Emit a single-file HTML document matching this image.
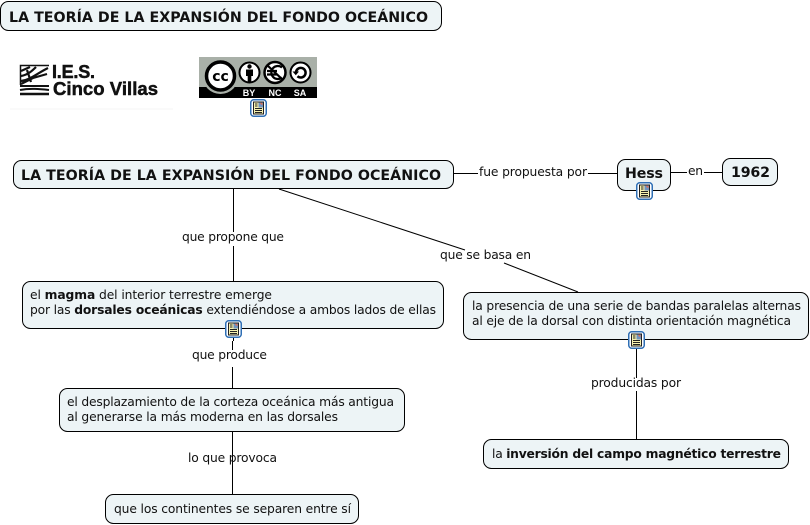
<!DOCTYPE html>
<html><head><meta charset="utf-8"><style>
html,body{margin:0;padding:0;background:#fff;width:810px;height:525px;overflow:hidden}
svg{display:block}
text{font-family:"DejaVu Sans","Liberation Sans",sans-serif;font-size:12.3px;fill:#111}
.b{font-weight:bold}
.n{fill:#edf4f6;stroke:#000;stroke-width:1}
.l{stroke:#000;stroke-width:1;fill:none}
.t{font-size:14.2px;font-weight:bold}
</style></head><body>
<svg width="810" height="525" viewBox="0 0 810 525" xmlns="http://www.w3.org/2000/svg">
<defs>
<g id="ic">
<rect x="0.75" y="0.75" width="15.5" height="16.5" rx="3" fill="#fff" stroke="#2f6fb5" stroke-width="1.5"/>
<rect x="3.500" y="3" width="10" height="12" fill="#f7f2b0" stroke="#222" stroke-width="1"/>
<rect x="8.500" y="3.500" width="4.500" height="5" fill="#6f93c0"/>
<path d="M10.500 4l2 1.500" stroke="#d9705a" stroke-width="1.500"/>
<path d="M5 5h2.500M5 7h2.500M5 9.500h7M5 11.500h7M5 13.500h7" stroke="#222" stroke-width="1"/>
</g>
</defs>

<!-- connectors -->
<path class="l" d="M453.500 173.500H617M670 172.500H722M233.500 188V281M279 189L465 250M504 263L578 292M233.500 329V341M232.500 341V388M232.500 431V494M636.500 340V439"/>

<!-- link label backgrounds -->
<rect x="478" y="164" width="110" height="17" fill="#fff"/>
<rect x="687" y="164" width="17" height="15" fill="#fff"/>
<rect x="181" y="232" width="105" height="14" fill="#fff"/>
<rect x="191" y="350" width="78" height="17" fill="#fff"/>
<rect x="590" y="378" width="92" height="13" fill="#fff"/>

<!-- nodes -->
<rect class="n" x="0.500" y="1.500" width="441" height="29" rx="8"/>
<text class="t" x="9" y="22" textLength="419">LA TEORÍA DE LA EXPANSIÓN DEL FONDO OCEÁNICO</text>

<rect class="n" x="13.500" y="160.500" width="440" height="28" rx="8"/>
<text class="t" x="21" y="180" textLength="420">LA TEORÍA DE LA EXPANSIÓN DEL FONDO OCEÁNICO</text>

<rect class="n" x="617.500" y="159.500" width="53" height="31" rx="8"/>
<text class="t" x="625" y="178" textLength="38">Hess</text>

<rect class="n" x="722.500" y="158.500" width="55" height="27" rx="8"/>
<text class="t" x="731" y="177" textLength="39">1962</text>

<rect class="n" x="22.500" y="281.500" width="421" height="47" rx="8"/>
<text x="30" y="299" textLength="242">el <tspan class="b">magma</tspan> del interior terrestre emerge</text>
<text x="30" y="314" textLength="406">por las <tspan class="b">dorsales oceánicas</tspan> extendiéndose a ambos lados de ellas</text>

<rect class="n" x="463.500" y="292.500" width="345" height="47" rx="8"/>
<text x="472" y="310" textLength="329">la presencia de una serie de bandas paralelas alternas</text>
<text x="472" y="325" textLength="319">al eje de la dorsal con distinta orientación magnética</text>

<rect class="n" x="59.500" y="388.500" width="345" height="43" rx="8"/>
<text x="67" y="406" textLength="327">el desplazamiento de la corteza oceánica más antigua</text>
<text x="67" y="421" textLength="271">al generarse la más moderna en las dorsales</text>

<rect class="n" x="105.500" y="494.500" width="253" height="29" rx="8"/>
<text x="114" y="513" textLength="237">que los continentes se separen entre sí</text>

<rect class="n" x="483.500" y="439.500" width="305" height="29" rx="8"/>
<text x="492" y="458" textLength="289">la <tspan class="b">inversión del campo magnético terrestre</tspan></text>

<!-- link labels -->
<text x="479" y="176" textLength="108">fue propuesta por</text>
<text x="688" y="175" textLength="15">en</text>
<text x="182" y="241" textLength="102">que propone que</text>
<text x="440" y="259" textLength="91">que se basa en</text>
<text x="192" y="359" textLength="75">que produce</text>
<text x="188" y="462" textLength="89">lo que provoca</text>
<text x="591" y="387" textLength="90">producidas por</text>

<!-- logo -->
<line x1="10" y1="109" x2="173" y2="109" stroke="#f6f6f6"/>
<rect x="20" y="65" width="29" height="30" fill="#fff"/>
<g fill="none" stroke="#111">
<path d="M20.500 85V65.500H49" stroke-width="1.500"/>
<path d="M21 71L30 67M21 76C28 75 33 70 36 67M21 81C30 80 36 74 48 68M27 70L31 82M21 84L33 78L47 74" stroke-width="2.200"/>
<path d="M20 86H49" stroke-width="2"/>
<path d="M20 90C30 88 40 89 49 90" stroke-width="2"/>
<path d="M20 94H49" stroke-width="2.500"/>
</g>
<text x="52" y="78" style="font-size:18px;font-weight:bold;font-family:'Liberation Sans',sans-serif;stroke:#111;stroke-width:.5" textLength="43">I.E.S.</text>
<text x="53" y="95" style="font-size:18.500px;font-weight:bold;font-family:'Liberation Sans',sans-serif;stroke:#111;stroke-width:.5" textLength="105">Cinco Villas</text>

<!-- CC badge -->
<rect x="199" y="57" width="118" height="41" fill="#000"/>
<rect x="199" y="57" width="118" height="30" fill="#a9b0a8"/>
<circle cx="220.500" cy="76" r="18" fill="#a9b0a8"/>
<circle cx="220.500" cy="76" r="14" fill="#fff" stroke="#000" stroke-width="3.500"/>
<text x="220.500" y="81" text-anchor="middle" style="font-size:14px;font-weight:bold;fill:#000">cc</text>
<circle cx="249.500" cy="72.500" r="10" fill="#fff" stroke="#000" stroke-width="2"/>
<circle cx="249.500" cy="66.500" r="2.200" fill="#000"/>
<path d="M246 69.500h7v6.500h-1.700v6h-3.600v-6H246z" fill="#000"/>
<circle cx="275" cy="72.500" r="10.500" fill="#fff" stroke="#000" stroke-width="2.500"/>
<path d="M282 67.500a6.500 6.500 0 1 0 0 10M267 71h10M267 74.500h10M267 65l16 15" fill="none" stroke="#000" stroke-width="2.200"/>
<circle cx="300.500" cy="72.500" r="10" fill="#fff" stroke="#000" stroke-width="2"/>
<path d="M296 72.500a4.800 4.800 0 1 1 1.500 3.700" fill="none" stroke="#000" stroke-width="2.500"/>
<path d="M292.500 71.500h6.500l-3.200 3.800z" fill="#000"/>
<text x="249" y="96" text-anchor="middle" style="font-size:9px;font-weight:bold;fill:#fff;font-family:'Liberation Sans',sans-serif">BY</text>
<text x="275" y="96" text-anchor="middle" style="font-size:9px;font-weight:bold;fill:#fff;font-family:'Liberation Sans',sans-serif">NC</text>
<text x="300" y="96" text-anchor="middle" style="font-size:9px;font-weight:bold;fill:#fff;font-family:'Liberation Sans',sans-serif">SA</text>

<!-- icons -->
<use href="#ic" x="250" y="99"/>
<use href="#ic" x="636" y="182"/>
<use href="#ic" x="225" y="320"/>
<use href="#ic" x="628" y="331"/>
</svg>
</body></html>
